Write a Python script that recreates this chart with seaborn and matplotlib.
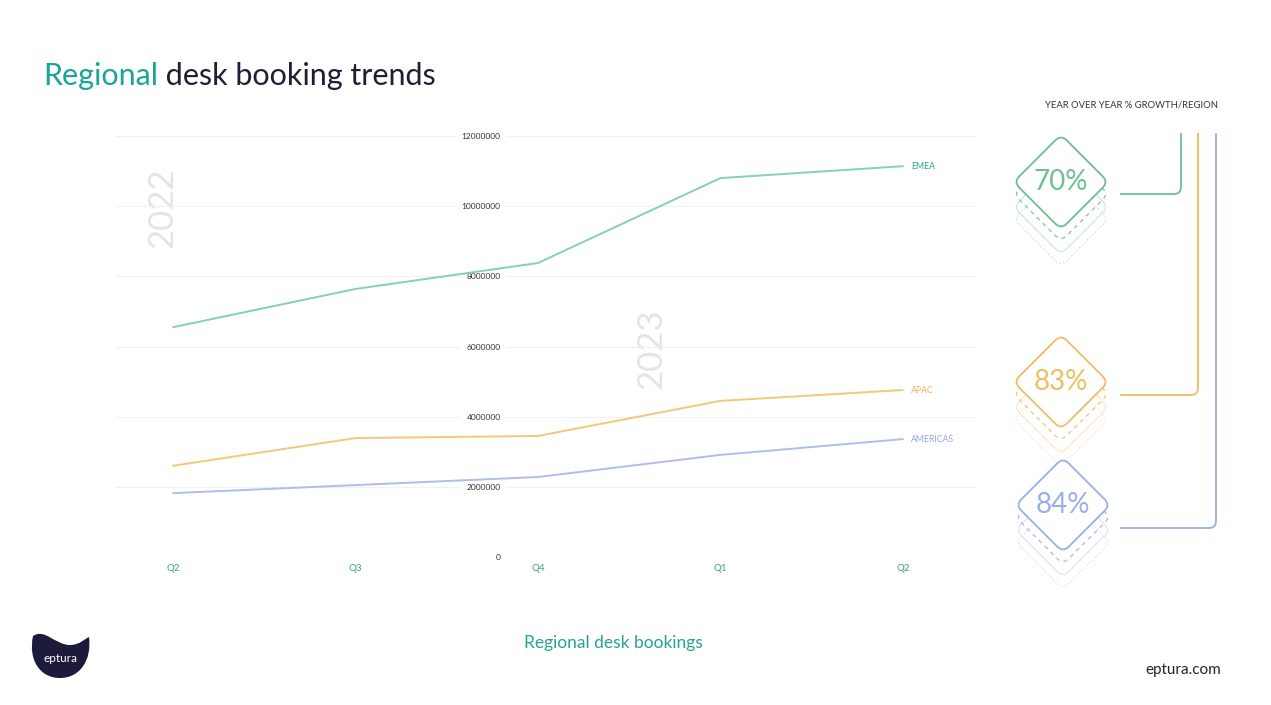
import pandas as pd
import seaborn as sns
import matplotlib.pyplot as plt
from matplotlib.patches import FancyBboxPatch, PathPatch
from matplotlib.path import Path
from matplotlib.transforms import Affine2D

# data
quarters = ["Q2", "Q3", "Q4", "Q1", "Q2"]
years = ["2022", "2022", "2022", "2023", "2023"]
emea = [6550000, 7640000, 8380000, 10800000, 11140000]
apac = [2600000, 3390000, 3450000, 4450000, 4760000]
americas = [1820000, 2050000, 2280000, 2910000, 3360000]
regions = ["EMEA", "APAC", "AMERICAS"]
growth = [70, 83, 84]
yticks = [0, 2000000, 4000000, 6000000, 8000000, 10000000, 12000000]

line_colors = {"EMEA": "#85d1b1", "APAC": "#f3c978", "AMERICAS": "#aebdec"}
label_colors = {"EMEA": "#2ea48e", "APAC": "#f0b656", "AMERICAS": "#95a6e0"}
box_colors = {"EMEA": "#6cbf93", "APAC": "#efbd62", "AMERICAS": "#9aaee8"}

rows = []
for name, vals in zip(regions, [emea, apac, americas]):
    for i, v in enumerate(vals):
        rows.append({"idx": i, "quarter": quarters[i], "year": years[i],
                     "region": name, "bookings": v})
df = pd.DataFrame(rows)

sns.set_theme(style="whitegrid")
plt.rcParams["font.family"] = ["Lato", "DejaVu Sans"]

fig = plt.figure(figsize=(12.71, 7.05), dpi=100)
fig.patch.set_facecolor("white")

# overlay in pixel coordinates for the page decoration
deco = fig.add_axes([0, 0, 1, 1], zorder=0)
deco.set_xlim(0, 1271)
deco.set_ylim(705, 0)
deco.axis("off")

t1 = deco.text(43, 76, "Regional", fontsize=22, color="#1ba596", va="center", ha="left")
deco.annotate(" desk booking trends", xy=(1, 0.5), xycoords=t1, fontsize=22,
              color="#1e1e35", va="center", ha="left")
deco.text(162, 208, "2022", rotation=90, fontsize=25, color="#e4e4e4",
          ha="center", va="center")
deco.text(651, 349, "2023", rotation=90, fontsize=25, color="#e4e4e4",
          ha="center", va="center")
deco.text(1218, 105, "YEAR OVER YEAR % GROWTH/REGION", fontsize=6.8,
          color="#333340", ha="right", va="center")
deco.text(613, 643, "Regional desk bookings", fontsize=12.5, color="#26a391",
          ha="center", va="center")
deco.text(1221, 670, "eptura.com", fontsize=11, color="#222230",
          ha="right", va="center")

# logo blob
verts = [(33, 636), (45, 628), (55, 645), (70, 645), (80, 645), (86, 638), (89, 637),
         (92, 660), (80, 678), (60, 678), (40, 678), (28, 660), (33, 636)]
codes = [Path.MOVETO] + [Path.CURVE4] * 12
deco.add_patch(PathPatch(Path(verts, codes), facecolor="#1c1b3b", edgecolor="none"))
deco.text(60, 659, "eptura", fontsize=8.5, color="white", ha="center", va="center")

# growth diamonds and connectors
centers = [(1061, 182), (1061, 382), (1063, 505)]
conn_y = [194, 395, 528]
conn_x = [1181, 1198, 1216]
side = 67
for k, (name, g) in enumerate(zip(regions, growth)):
    cx, cy = centers[k]
    col = box_colors[name]
    z = 2 + k * 3
    copies = [(37, ":", 0.35), (25, "-", 0.3), (12, (0, (3, 3)), 0.8)]
    for off, ls, a in copies:
        p = FancyBboxPatch((cx - side / 2, cy + off - side / 2), side, side,
                           boxstyle="round,pad=0,rounding_size=8",
                           facecolor="none", edgecolor=col, lw=1.0, ls=ls, alpha=a,
                           transform=Affine2D().rotate_deg_around(cx, cy + off, 45) + deco.transData,
                           zorder=z)
        deco.add_patch(p)
    p = FancyBboxPatch((cx - side / 2, cy - side / 2), side, side,
                       boxstyle="round,pad=0,rounding_size=8",
                       facecolor="white", edgecolor=col, lw=1.3,
                       transform=Affine2D().rotate_deg_around(cx, cy, 45) + deco.transData,
                       zorder=z + 1)
    deco.add_patch(p)
    deco.text(cx, cy, f"{g}%", fontsize=20, color=col, ha="center", va="center",
              zorder=z + 2)
    r = 7
    x1, y1 = conn_x[k], conn_y[k]
    cpath = Path([(1120, y1), (x1 - r, y1), (x1, y1), (x1, y1 - r), (x1, 133)],
                 [Path.MOVETO, Path.LINETO, Path.CURVE3, Path.CURVE3, Path.LINETO])
    deco.add_patch(PathPatch(cpath, facecolor="none", edgecolor=col, lw=1.3, zorder=1))

# main chart
ax = fig.add_axes([115 / 1271, 148 / 705, 860 / 1271, 421 / 705], zorder=1)
ax.set_facecolor("none")
sns.lineplot(data=df, x="idx", y="bookings", hue="region", palette=line_colors,
             legend=False, lw=1.4, ax=ax)
for name, vals in zip(regions, [emea, apac, americas]):
    ax.annotate(name, (4, vals[-1]), xytext=(6, 0), textcoords="offset points",
                fontsize=6.3, color=label_colors[name], va="center", ha="left")

ax.set_xlim(-0.318, 4.395)
ax.set_ylim(0, 12000000)
ax.set_xticks(range(len(quarters)))
ax.set_xticklabels(quarters)
ax.set_xticks([2.5], minor=True)
ax.set_yticks(yticks)
ax.set_yticklabels([str(t) for t in yticks])
ax.set_xlabel("")
ax.set_ylabel("")
sns.despine(ax=ax, left=True, bottom=True)
ax.spines["left"].set_position(("data", 1.81))
ax.grid(axis="x", visible=False)
ax.grid(axis="y", color="#f1f1f1", lw=0.8)
ax.tick_params(axis="y", length=0, pad=2, labelsize=6, labelcolor="#333333")
ax.tick_params(axis="x", which="major", length=0, pad=5, labelsize=7, labelcolor="#3a9f8c")
ax.tick_params(axis="x", which="minor", length=10, width=0.8, color="#ececec", direction="out")
for lbl in ax.get_yticklabels():
    lbl.set_bbox(dict(facecolor="white", edgecolor="none", pad=4))

plt.savefig("out.png", dpi=100)
